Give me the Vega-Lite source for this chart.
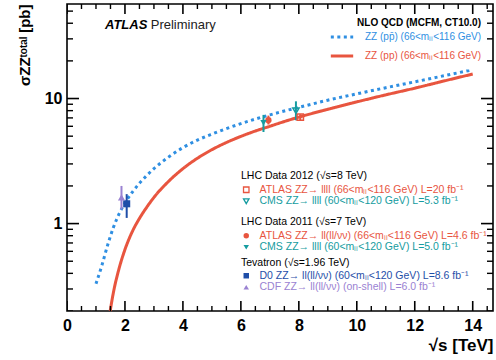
{
  "$schema": "https://vega.github.io/schema/vega-lite/v6.json",
  "width": 426,
  "height": 307,
  "autosize": "none",
  "padding": {"left": 67, "top": 4, "right": 3, "bottom": 49},
  "config": {
    "font": "Liberation Sans",
    "view": {"stroke": "black", "strokeWidth": 1.6},
    "axis": {"labelFont": "Liberation Sans", "labelFontWeight": "bold", "labelFontSize": 16, "labelColor": "black", "labelOverlap": false, "labelFlush": false, "titleFont": "Liberation Sans", "titleColor": "black"},
    "legend": {"labelFont": "Liberation Sans", "titleFont": "Liberation Sans", "labelLimit": 320, "titleLimit": 320, "padding": 0}
  },
  "datasets": {
    "xMajor": [{"v": 0}, {"v": 2}, {"v": 4}, {"v": 6}, {"v": 8}, {"v": 10}, {"v": 12}, {"v": 14}],
    "xMinor": [{"v": 0.5}, {"v": 1}, {"v": 1.5}, {"v": 2.5}, {"v": 3}, {"v": 3.5}, {"v": 4.5}, {"v": 5}, {"v": 5.5}, {"v": 6.5}, {"v": 7}, {"v": 7.5}, {"v": 8.5}, {"v": 9}, {"v": 9.5}, {"v": 10.5}, {"v": 11}, {"v": 11.5}, {"v": 12.5}, {"v": 13}, {"v": 13.5}, {"v": 14.5}],
    "yMajor": [{"v": 1}, {"v": 10}],
    "yMinor": [{"v": 0.2}, {"v": 0.3}, {"v": 0.4}, {"v": 0.5}, {"v": 0.6}, {"v": 0.7}, {"v": 0.8}, {"v": 0.9}, {"v": 2}, {"v": 3}, {"v": 4}, {"v": 5}, {"v": 6}, {"v": 7}, {"v": 8}, {"v": 9}, {"v": 20}, {"v": 30}, {"v": 40}, {"v": 50}],
    "curves": [
      {"series": "ZZ (pp̄) (66<mₗₗ<116 GeV)", "x": 1.0, "y": 0.33},
      {"series": "ZZ (pp̄) (66<mₗₗ<116 GeV)", "x": 1.2, "y": 0.46},
      {"series": "ZZ (pp̄) (66<mₗₗ<116 GeV)", "x": 1.4, "y": 0.67},
      {"series": "ZZ (pp̄) (66<mₗₗ<116 GeV)", "x": 1.6, "y": 0.93},
      {"series": "ZZ (pp̄) (66<mₗₗ<116 GeV)", "x": 1.8, "y": 1.2},
      {"series": "ZZ (pp̄) (66<mₗₗ<116 GeV)", "x": 2.0, "y": 1.46},
      {"series": "ZZ (pp̄) (66<mₗₗ<116 GeV)", "x": 2.25, "y": 1.78},
      {"series": "ZZ (pp̄) (66<mₗₗ<116 GeV)", "x": 2.5, "y": 2.1},
      {"series": "ZZ (pp̄) (66<mₗₗ<116 GeV)", "x": 2.75, "y": 2.42},
      {"series": "ZZ (pp̄) (66<mₗₗ<116 GeV)", "x": 3.0, "y": 2.75},
      {"series": "ZZ (pp̄) (66<mₗₗ<116 GeV)", "x": 3.5, "y": 3.4},
      {"series": "ZZ (pp̄) (66<mₗₗ<116 GeV)", "x": 4.0, "y": 4.05},
      {"series": "ZZ (pp̄) (66<mₗₗ<116 GeV)", "x": 4.5, "y": 4.65},
      {"series": "ZZ (pp̄) (66<mₗₗ<116 GeV)", "x": 5.0, "y": 5.2},
      {"series": "ZZ (pp̄) (66<mₗₗ<116 GeV)", "x": 5.5, "y": 5.75},
      {"series": "ZZ (pp̄) (66<mₗₗ<116 GeV)", "x": 6.0, "y": 6.3},
      {"series": "ZZ (pp̄) (66<mₗₗ<116 GeV)", "x": 6.5, "y": 6.85},
      {"series": "ZZ (pp̄) (66<mₗₗ<116 GeV)", "x": 7.0, "y": 7.4},
      {"series": "ZZ (pp̄) (66<mₗₗ<116 GeV)", "x": 7.5, "y": 7.95},
      {"series": "ZZ (pp̄) (66<mₗₗ<116 GeV)", "x": 8.0, "y": 8.5},
      {"series": "ZZ (pp̄) (66<mₗₗ<116 GeV)", "x": 9.0, "y": 9.7},
      {"series": "ZZ (pp̄) (66<mₗₗ<116 GeV)", "x": 10.0, "y": 10.9},
      {"series": "ZZ (pp̄) (66<mₗₗ<116 GeV)", "x": 11.0, "y": 12.2},
      {"series": "ZZ (pp̄) (66<mₗₗ<116 GeV)", "x": 12.0, "y": 13.6},
      {"series": "ZZ (pp̄) (66<mₗₗ<116 GeV)", "x": 13.0, "y": 15.2},
      {"series": "ZZ (pp̄) (66<mₗₗ<116 GeV)", "x": 14.0, "y": 17.0},
      {"series": "ZZ (pp) (66<mₗₗ<116 GeV)", "x": 1.49, "y": 0.2},
      {"series": "ZZ (pp) (66<mₗₗ<116 GeV)", "x": 1.6, "y": 0.28},
      {"series": "ZZ (pp) (66<mₗₗ<116 GeV)", "x": 1.8, "y": 0.44},
      {"series": "ZZ (pp) (66<mₗₗ<116 GeV)", "x": 2.0, "y": 0.62},
      {"series": "ZZ (pp) (66<mₗₗ<116 GeV)", "x": 2.25, "y": 0.86},
      {"series": "ZZ (pp) (66<mₗₗ<116 GeV)", "x": 2.5, "y": 1.1},
      {"series": "ZZ (pp) (66<mₗₗ<116 GeV)", "x": 2.75, "y": 1.35},
      {"series": "ZZ (pp) (66<mₗₗ<116 GeV)", "x": 3.0, "y": 1.62},
      {"series": "ZZ (pp) (66<mₗₗ<116 GeV)", "x": 3.5, "y": 2.17},
      {"series": "ZZ (pp) (66<mₗₗ<116 GeV)", "x": 4.0, "y": 2.75},
      {"series": "ZZ (pp) (66<mₗₗ<116 GeV)", "x": 4.5, "y": 3.33},
      {"series": "ZZ (pp) (66<mₗₗ<116 GeV)", "x": 5.0, "y": 3.9},
      {"series": "ZZ (pp) (66<mₗₗ<116 GeV)", "x": 5.5, "y": 4.45},
      {"series": "ZZ (pp) (66<mₗₗ<116 GeV)", "x": 6.0, "y": 4.98},
      {"series": "ZZ (pp) (66<mₗₗ<116 GeV)", "x": 6.5, "y": 5.5},
      {"series": "ZZ (pp) (66<mₗₗ<116 GeV)", "x": 7.0, "y": 6.0},
      {"series": "ZZ (pp) (66<mₗₗ<116 GeV)", "x": 7.5, "y": 6.55},
      {"series": "ZZ (pp) (66<mₗₗ<116 GeV)", "x": 8.0, "y": 7.1},
      {"series": "ZZ (pp) (66<mₗₗ<116 GeV)", "x": 9.0, "y": 8.2},
      {"series": "ZZ (pp) (66<mₗₗ<116 GeV)", "x": 10.0, "y": 9.4},
      {"series": "ZZ (pp) (66<mₗₗ<116 GeV)", "x": 11.0, "y": 10.7},
      {"series": "ZZ (pp) (66<mₗₗ<116 GeV)", "x": 12.0, "y": 12.1},
      {"series": "ZZ (pp) (66<mₗₗ<116 GeV)", "x": 13.0, "y": 13.8},
      {"series": "ZZ (pp) (66<mₗₗ<116 GeV)", "x": 14.0, "y": 15.7}
    ],
    "lhc2012": [
      {"label": "ATLAS ZZ→ llll (66<mₗₗ<116 GeV) L=20 fb⁻¹", "x": 8.05, "y": 7.1, "lo": 6.7, "hi": 7.5},
      {"label": "CMS ZZ→ llll (60<mₗₗ<120 GeV) L=5.3 fb⁻¹", "x": 7.9, "y": 8.0, "lo": 6.7, "hi": 9.5}
    ],
    "lhc2011": [
      {"label": "ATLAS ZZ→ ll(ll/νν) (66<mₗₗ<116 GeV) L=4.6 fb⁻¹", "x": 6.95, "y": 6.7, "lo": 6.2, "hi": 7.3},
      {"label": "CMS ZZ→ llll (60<mₗₗ<120 GeV) L=5.0 fb⁻¹", "x": 6.78, "y": 6.4, "lo": 5.4, "hi": 7.4}
    ],
    "tevatron": [
      {"label": "D0 ZZ→ ll(ll/νν) (60<mₗₗ<120 GeV) L=8.6 fb⁻¹", "x": 2.06, "y": 1.44, "lo": 1.11, "hi": 1.72},
      {"label": "CDF ZZ→ ll(ll/νν) (on-shell) L=6.0 fb⁻¹", "x": 1.88, "y": 1.62, "lo": 1.3, "hi": 2.0}
    ]
  },
  "layer": [
    {
      "data": {"name": "curves"},
      "mark": {"type": "line", "strokeWidth": 3, "interpolate": "monotone"},
      "encoding": {
        "x": {"field": "x", "type": "quantitative", "scale": {"domain": [0, 14.7], "nice": false, "zero": false},
          "axis": {"orient": "bottom", "title": "√s [TeV]", "titleAnchor": "end", "titleFontSize": 17, "titleFontWeight": "bold", "titlePadding": 4,
            "values": [0, 2, 4, 6, 8, 10, 12, 14], "format": "d", "grid": false, "domain": false, "ticks": false, "labelPadding": 6}},
        "y": {"field": "y", "type": "quantitative", "scale": {"type": "log", "domain": [0.2, 57], "nice": false, "zero": false},
          "axis": {"orient": "left", "title": "σZZᵗᵒᵗᵃˡ [pb]", "titleAnchor": "end", "titleFontSize": 15, "titleFontWeight": "bold", "titlePadding": 12,
            "values": [1, 10], "format": "d", "grid": false, "domain": false, "ticks": false, "labelPadding": 5}},
        "color": {"field": "series", "type": "nominal",
          "scale": {"domain": ["ZZ (pp̄) (66<mₗₗ<116 GeV)", "ZZ (pp) (66<mₗₗ<116 GeV)"], "range": ["#2f8fe2", "#e8553f"]},
          "legend": {"orient": "none", "legendX": 262, "legendY": 14, "title": "NLO QCD (MCFM, CT10.0)", "titleAnchor": "end", "titleFontSize": 10, "titleFontWeight": "bold", "titleColor": "black", "titlePadding": -4,
            "labelFontSize": 10, "labelOffset": 10, "symbolType": "stroke", "symbolSize": 500, "symbolStrokeWidth": 3, "rowPadding": 0,
            "labelColor": {"expr": "indexof(datum.value, 'pp̄') >= 0 ? '#2f8fe2' : '#e8553f'"}}},
        "strokeDash": {"field": "series", "type": "nominal",
          "scale": {"domain": ["ZZ (pp̄) (66<mₗₗ<116 GeV)", "ZZ (pp) (66<mₗₗ<116 GeV)"], "range": [[3, 3.5], [1, 0]]}}
      }
    },
    {
      "data": {"name": "xMajor"},
      "mark": {"type": "tick", "orient": "vertical", "color": "black", "size": 20, "thickness": 1.6, "opacity": 1, "clip": true},
      "encoding": {
        "x": {"field": "v", "type": "quantitative", "scale": {"domain": [0, 14.7], "nice": false, "zero": false}, "axis": null},
        "y": {"datum": 0.2, "type": "quantitative", "scale": {"type": "log", "domain": [0.2, 57], "nice": false, "zero": false}, "axis": null}
      }
    },
    {
      "data": {"name": "xMajor"},
      "mark": {"type": "tick", "orient": "vertical", "color": "black", "size": 20, "thickness": 1.6, "opacity": 1, "clip": true},
      "encoding": {
        "x": {"field": "v", "type": "quantitative", "scale": {"domain": [0, 14.7], "nice": false, "zero": false}, "axis": null},
        "y": {"datum": 57, "type": "quantitative", "scale": {"type": "log", "domain": [0.2, 57], "nice": false, "zero": false}, "axis": null}
      }
    },
    {
      "data": {"name": "xMinor"},
      "mark": {"type": "tick", "orient": "vertical", "color": "black", "size": 10, "thickness": 1.4, "opacity": 1, "clip": true},
      "encoding": {
        "x": {"field": "v", "type": "quantitative", "scale": {"domain": [0, 14.7], "nice": false, "zero": false}, "axis": null},
        "y": {"datum": 0.2, "type": "quantitative", "scale": {"type": "log", "domain": [0.2, 57], "nice": false, "zero": false}, "axis": null}
      }
    },
    {
      "data": {"name": "xMinor"},
      "mark": {"type": "tick", "orient": "vertical", "color": "black", "size": 10, "thickness": 1.4, "opacity": 1, "clip": true},
      "encoding": {
        "x": {"field": "v", "type": "quantitative", "scale": {"domain": [0, 14.7], "nice": false, "zero": false}, "axis": null},
        "y": {"datum": 57, "type": "quantitative", "scale": {"type": "log", "domain": [0.2, 57], "nice": false, "zero": false}, "axis": null}
      }
    },
    {
      "data": {"name": "yMajor"},
      "mark": {"type": "tick", "orient": "horizontal", "color": "black", "size": 24, "thickness": 1.6, "opacity": 1, "clip": true},
      "encoding": {
        "x": {"datum": 0, "type": "quantitative", "scale": {"domain": [0, 14.7], "nice": false, "zero": false}, "axis": null},
        "y": {"field": "v", "type": "quantitative", "scale": {"type": "log", "domain": [0.2, 57], "nice": false, "zero": false}, "axis": null}
      }
    },
    {
      "data": {"name": "yMajor"},
      "mark": {"type": "tick", "orient": "horizontal", "color": "black", "size": 24, "thickness": 1.6, "opacity": 1, "clip": true},
      "encoding": {
        "x": {"datum": 14.7, "type": "quantitative", "scale": {"domain": [0, 14.7], "nice": false, "zero": false}, "axis": null},
        "y": {"field": "v", "type": "quantitative", "scale": {"type": "log", "domain": [0.2, 57], "nice": false, "zero": false}, "axis": null}
      }
    },
    {
      "data": {"name": "yMinor"},
      "mark": {"type": "tick", "orient": "horizontal", "color": "black", "size": 12, "thickness": 1.4, "opacity": 1, "clip": true},
      "encoding": {
        "x": {"datum": 0, "type": "quantitative", "scale": {"domain": [0, 14.7], "nice": false, "zero": false}, "axis": null},
        "y": {"field": "v", "type": "quantitative", "scale": {"type": "log", "domain": [0.2, 57], "nice": false, "zero": false}, "axis": null}
      }
    },
    {
      "data": {"name": "yMinor"},
      "mark": {"type": "tick", "orient": "horizontal", "color": "black", "size": 12, "thickness": 1.4, "opacity": 1, "clip": true},
      "encoding": {
        "x": {"datum": 14.7, "type": "quantitative", "scale": {"domain": [0, 14.7], "nice": false, "zero": false}, "axis": null},
        "y": {"field": "v", "type": "quantitative", "scale": {"type": "log", "domain": [0.2, 57], "nice": false, "zero": false}, "axis": null}
      }
    },
    {
      "data": {"name": "lhc2012"},
      "mark": {"type": "rule", "strokeWidth": 2},
      "encoding": {
        "x": {"field": "x", "type": "quantitative", "scale": {"domain": [0, 14.7], "nice": false, "zero": false}, "axis": null},
        "y": {"field": "lo", "type": "quantitative", "scale": {"type": "log", "domain": [0.2, 57], "nice": false, "zero": false}, "axis": null},
        "y2": {"field": "hi"},
        "color": {"field": "label", "type": "nominal", "scale": {"domain": ["ATLAS ZZ→ llll (66<mₗₗ<116 GeV) L=20 fb⁻¹", "CMS ZZ→ llll (60<mₗₗ<120 GeV) L=5.3 fb⁻¹"], "range": ["#e8553f", "#169ca0"]}, "legend": null}
      }
    },
    {
      "data": {"name": "lhc2012"},
      "mark": {"type": "point", "filled": false, "strokeWidth": 1.5, "size": 40, "opacity": 1},
      "encoding": {
        "x": {"field": "x", "type": "quantitative", "scale": {"domain": [0, 14.7], "nice": false, "zero": false}, "axis": null},
        "y": {"field": "y", "type": "quantitative", "scale": {"type": "log", "domain": [0.2, 57], "nice": false, "zero": false}, "axis": null},
        "color": {"field": "label", "type": "nominal", "scale": {"domain": ["ATLAS ZZ→ llll (66<mₗₗ<116 GeV) L=20 fb⁻¹", "CMS ZZ→ llll (60<mₗₗ<120 GeV) L=5.3 fb⁻¹"], "range": ["#e8553f", "#169ca0"]},
          "legend": {"orient": "none", "legendX": 174, "legendY": 167, "title": "LHC Data 2012 (√s=8 TeV)", "titleFontSize": 10.5, "titleFontWeight": "normal", "titleColor": "black", "titlePadding": 3,
            "labelFontSize": 10.5, "labelOffset": 8, "symbolSize": 30, "symbolStrokeWidth": 1.3, "rowPadding": 0.5,
            "labelColor": {"expr": "indexof(datum.value, 'ATLAS') === 0 ? '#e8553f' : '#169ca0'"}}},
        "shape": {"field": "label", "type": "nominal", "scale": {"domain": ["ATLAS ZZ→ llll (66<mₗₗ<116 GeV) L=20 fb⁻¹", "CMS ZZ→ llll (60<mₗₗ<120 GeV) L=5.3 fb⁻¹"], "range": ["square", "triangle-down"]}}
      }
    },
    {
      "data": {"name": "lhc2011"},
      "mark": {"type": "rule", "strokeWidth": 2},
      "encoding": {
        "x": {"field": "x", "type": "quantitative", "scale": {"domain": [0, 14.7], "nice": false, "zero": false}, "axis": null},
        "y": {"field": "lo", "type": "quantitative", "scale": {"type": "log", "domain": [0.2, 57], "nice": false, "zero": false}, "axis": null},
        "y2": {"field": "hi"},
        "color": {"field": "label", "type": "nominal", "scale": {"domain": ["ATLAS ZZ→ ll(ll/νν) (66<mₗₗ<116 GeV) L=4.6 fb⁻¹", "CMS ZZ→ llll (60<mₗₗ<120 GeV) L=5.0 fb⁻¹"], "range": ["#e8553f", "#169ca0"]}, "legend": null}
      }
    },
    {
      "data": {"name": "lhc2011"},
      "mark": {"type": "point", "filled": true, "size": 40, "opacity": 1},
      "encoding": {
        "x": {"field": "x", "type": "quantitative", "scale": {"domain": [0, 14.7], "nice": false, "zero": false}, "axis": null},
        "y": {"field": "y", "type": "quantitative", "scale": {"type": "log", "domain": [0.2, 57], "nice": false, "zero": false}, "axis": null},
        "color": {"field": "label", "type": "nominal", "scale": {"domain": ["ATLAS ZZ→ ll(ll/νν) (66<mₗₗ<116 GeV) L=4.6 fb⁻¹", "CMS ZZ→ llll (60<mₗₗ<120 GeV) L=5.0 fb⁻¹"], "range": ["#e8553f", "#169ca0"]},
          "legend": {"orient": "none", "legendX": 174, "legendY": 213, "title": "LHC Data 2011 (√s=7 TeV)", "titleFontSize": 10.5, "titleFontWeight": "normal", "titleColor": "black", "titlePadding": 3,
            "labelFontSize": 10.5, "labelOffset": 8, "symbolSize": 30, "rowPadding": 0.5,
            "labelColor": {"expr": "indexof(datum.value, 'ATLAS') === 0 ? '#e8553f' : '#169ca0'"}}},
        "shape": {"field": "label", "type": "nominal", "scale": {"domain": ["ATLAS ZZ→ ll(ll/νν) (66<mₗₗ<116 GeV) L=4.6 fb⁻¹", "CMS ZZ→ llll (60<mₗₗ<120 GeV) L=5.0 fb⁻¹"], "range": ["circle", "triangle-down"]}}
      }
    },
    {
      "data": {"name": "tevatron"},
      "mark": {"type": "rule", "strokeWidth": 2},
      "encoding": {
        "x": {"field": "x", "type": "quantitative", "scale": {"domain": [0, 14.7], "nice": false, "zero": false}, "axis": null},
        "y": {"field": "lo", "type": "quantitative", "scale": {"type": "log", "domain": [0.2, 57], "nice": false, "zero": false}, "axis": null},
        "y2": {"field": "hi"},
        "color": {"field": "label", "type": "nominal", "scale": {"domain": ["D0 ZZ→ ll(ll/νν) (60<mₗₗ<120 GeV) L=8.6 fb⁻¹", "CDF ZZ→ ll(ll/νν) (on-shell) L=6.0 fb⁻¹"], "range": ["#1f4ea8", "#9a82d2"]}, "legend": null}
      }
    },
    {
      "data": {"name": "tevatron"},
      "mark": {"type": "point", "filled": true, "size": 50, "opacity": 1},
      "encoding": {
        "x": {"field": "x", "type": "quantitative", "scale": {"domain": [0, 14.7], "nice": false, "zero": false}, "axis": null},
        "y": {"field": "y", "type": "quantitative", "scale": {"type": "log", "domain": [0.2, 57], "nice": false, "zero": false}, "axis": null},
        "color": {"field": "label", "type": "nominal", "scale": {"domain": ["D0 ZZ→ ll(ll/νν) (60<mₗₗ<120 GeV) L=8.6 fb⁻¹", "CDF ZZ→ ll(ll/νν) (on-shell) L=6.0 fb⁻¹"], "range": ["#1f4ea8", "#9a82d2"]},
          "legend": {"orient": "none", "legendX": 174, "legendY": 254, "title": "Tevatron (√s=1.96 TeV)", "titleFontSize": 10.5, "titleFontWeight": "normal", "titleColor": "black", "titlePadding": 2,
            "labelFontSize": 10.5, "labelOffset": 8, "symbolSize": 30, "rowPadding": 0.5,
            "labelColor": {"expr": "indexof(datum.value, 'D0') === 0 ? '#1f4ea8' : '#9a82d2'"}}},
        "shape": {"field": "label", "type": "nominal", "scale": {"domain": ["D0 ZZ→ ll(ll/νν) (60<mₗₗ<120 GeV) L=8.6 fb⁻¹", "CDF ZZ→ ll(ll/νν) (on-shell) L=6.0 fb⁻¹"], "range": ["square", "triangle-up"]}}
      }
    },
    {
      "data": {"values": [{}]},
      "mark": {"type": "text", "align": "left", "baseline": "middle", "fontSize": 13, "fontWeight": "bold", "fontStyle": "italic", "color": "black"},
      "encoding": {
        "x": {"datum": 1.31, "type": "quantitative", "scale": {"domain": [0, 14.7], "nice": false, "zero": false}, "axis": null},
        "y": {"datum": 39, "type": "quantitative", "scale": {"type": "log", "domain": [0.2, 57], "nice": false, "zero": false}, "axis": null},
        "text": {"value": "ATLAS"}
      }
    },
    {
      "data": {"values": [{}]},
      "mark": {"type": "text", "align": "left", "baseline": "middle", "fontSize": 13, "color": "#222222"},
      "encoding": {
        "x": {"datum": 2.89, "type": "quantitative", "scale": {"domain": [0, 14.7], "nice": false, "zero": false}, "axis": null},
        "y": {"datum": 39, "type": "quantitative", "scale": {"type": "log", "domain": [0.2, 57], "nice": false, "zero": false}, "axis": null},
        "text": {"value": "Preliminary"}
      }
    }
  ],
  "resolve": {
    "scale": {"color": "independent", "shape": "independent", "strokeDash": "independent"},
    "axis": {"x": "independent", "y": "independent"}
  }
}
